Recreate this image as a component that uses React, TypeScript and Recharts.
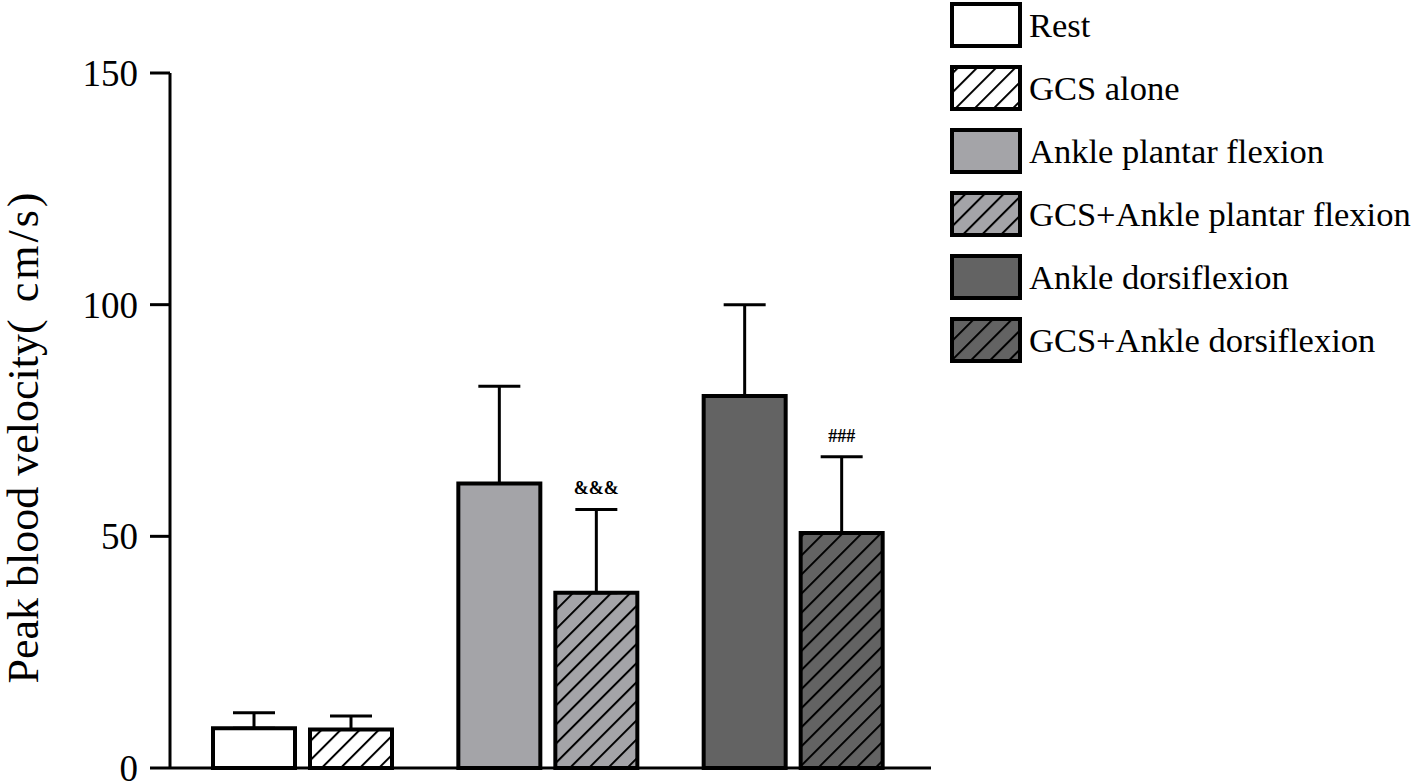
import { Bar, BarChart, Cell, ErrorBar, LabelList, Legend, XAxis, YAxis } from "recharts";

const groups = ["Rest", "Ankle plantar flexion", "Ankle dorsiflexion"];
const baseMean = [8.6, 61.4, 80.3];
const baseSd = [3.3, 21.0, 19.7];
const gcsMean = [8.3, 37.8, 50.7];
const gcsSd = [2.9, 18.0, 16.5];
const gcsMarks = ["", "&&&", "###"];
const yTicks = [0, 50, 100, 150];
const legendLabels = [
  "Rest",
  "GCS alone",
  "Ankle plantar flexion",
  "GCS+Ankle plantar flexion",
  "Ankle dorsiflexion",
  "GCS+Ankle dorsiflexion",
];

const tones = ["#ffffff", "#a4a4a8", "#636363"];
const hatchIds = ["hatch-white", "hatch-light", "hatch-dark"];
const serif = "'Liberation Serif', 'Times New Roman', serif";

const data = groups.map((group, i) => ({
  group,
  base: baseMean[i],
  baseErr: [0, baseSd[i]],
  gcs: gcsMean[i],
  gcsErr: [0, gcsSd[i]],
  mark: gcsMarks[i],
}));

function SigLabel(props: any) {
  const vb = props.viewBox ?? props;
  const { x, y, width, height } = vb;
  const row = data[props.index];
  if (!row || !row.mark) return null;
  // SD converted to pixels with the bar's own scale (height / value)
  const ppu = height / row.gcs;
  const top = y - row.gcsErr[1] * ppu;
  return (
    <text x={x + width / 2} y={top - 15} textAnchor="middle" fontSize={18} fontWeight="bold" fontFamily={serif} fill="#000">
      {row.mark}
    </text>
  );
}

function YTitle(props: any) {
  const vb = props.viewBox;
  const cx = 23;
  const cy = vb.y + vb.height / 2 + 16;
  return (
    <text
      x={cx}
      y={cy}
      transform={`rotate(-90 ${cx} ${cy})`}
      textAnchor="middle"
      dominantBaseline="central"
      fontSize={44}
      fontFamily={serif}
      fill="#000"
    >
      Peak blood velocity<tspan letterSpacing={3}>( cm/s)</tspan>
    </text>
  );
}

function LegendBox() {
  return (
    <svg width={468} height={380} style={{ display: "block" }}>
      {legendLabels.map((label, i) => {
        const fill = i % 2 === 0 ? tones[i / 2] : `url(#${hatchIds[(i - 1) / 2]})`;
        const y = 4 + i * 63;
        return (
          <g key={label}>
            <rect x={4} y={y} width={68} height={42} fill={fill} stroke="#000" strokeWidth={4} />
            <text x={81} y={y + 21} dominantBaseline="central" fontSize={34.5} fontFamily={serif} fill="#000">
              {label}
            </text>
          </g>
        );
      })}
    </svg>
  );
}

export default function App() {
  return (
    <div style={{ position: "absolute", top: 0, left: 0, width: 1416, height: 784, background: "#fff" }}>
      <BarChart
        width={1416}
        height={784}
        data={data}
        margin={{ top: 73, right: 485, bottom: 15, left: 0 }}
        barSize={82}
        barGap={15}
      >
        <defs>
          {hatchIds.map((id, i) => (
            <pattern key={id} id={id} patternUnits="userSpaceOnUse" width={13.5} height={13.5} patternTransform="rotate(45)">
              <rect width={13.5} height={13.5} fill={tones[i]} />
              <line x1={0} y1={0} x2={0} y2={13.5} stroke="#000" strokeWidth={4} />
            </pattern>
          ))}
        </defs>
        <XAxis
          dataKey="group"
          tick={false}
          tickLine={false}
          axisLine={{ stroke: "#000", strokeWidth: 3 }}
          height={1}
          padding={{ left: 10, right: 15 }}
        />
        <YAxis
          width={170}
          domain={[0, 150]}
          ticks={yTicks}
          interval={0}
          tickSize={20}
          tickMargin={12}
          axisLine={{ stroke: "#000", strokeWidth: 3 }}
          tickLine={{ stroke: "#000", strokeWidth: 3 }}
          tick={{ fontSize: 37, fontFamily: serif, fill: "#000" }}
          label={{ content: YTitle }}
        />
        <Legend
          layout="vertical"
          align="center"
          verticalAlign="middle"
          content={<LegendBox />}
          wrapperStyle={{ top: 0, left: 948, width: 468 }}
        />
        <Bar dataKey="base" stroke="#000" strokeWidth={4} isAnimationActive={false}>
          {data.map((d, i) => (
            <Cell key={d.group} fill={tones[i]} />
          ))}
          <ErrorBar dataKey="baseErr" direction="y" width={21} stroke="#000" strokeWidth={3} isAnimationActive={false} />
        </Bar>
        <Bar dataKey="gcs" stroke="#000" strokeWidth={4} isAnimationActive={false}>
          {data.map((d, i) => (
            <Cell key={d.group} fill={`url(#${hatchIds[i]})`} />
          ))}
          <ErrorBar dataKey="gcsErr" direction="y" width={21} stroke="#000" strokeWidth={3} isAnimationActive={false} />
          <LabelList dataKey="mark" content={SigLabel} />
        </Bar>
      </BarChart>
    </div>
  );
}
